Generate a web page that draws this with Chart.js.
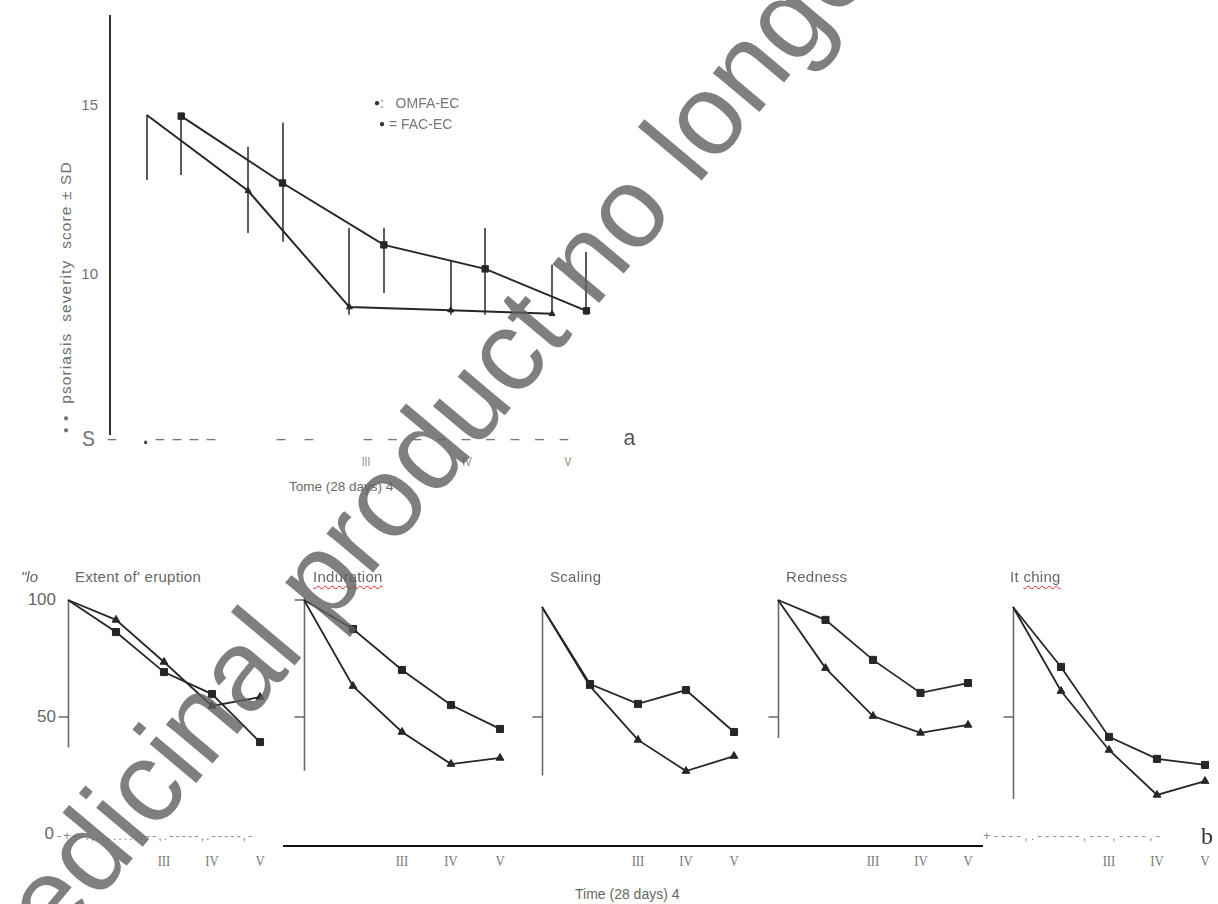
<!DOCTYPE html>
<html>
<head>
<meta charset="utf-8">
<script src="https://cdn.jsdelivr.net/npm/chart.js@4.4.1/dist/chart.umd.min.js"></script>
<style>
  body { margin: 0; background: #fff; width: 1218px; height: 904px; overflow: hidden; position: relative;
         font-family: "Liberation Sans", Arial, sans-serif; }
  .txt { position: absolute; white-space: nowrap; line-height: 1; }
  canvas { position: absolute; }
  .wavy { text-decoration: underline wavy #e02424; text-decoration-thickness: 1px; text-underline-offset: 3px; }
</style>
</head>
<body>
<script>
// ---- panel a: psoriasis severity score ± SD per visit ----
const visits = [1, 2, 3, 4, 5];
const visitLabels = ["I", "II", "III", "IV", "V"];
const scoreTicks = [15, 10];

const omfaMean = [14.7, 12.46, 9.02, 8.93, 8.82];
const omfaLow = [12.78, 11.21, 8.79, 8.79, 8.79];
const omfaHigh = [14.7, 13.76, 11.36, 10.38, 10.27];

const facMean = [14.67, 12.69, 10.86, 10.15, 8.91];
const facLow = [12.93, 10.95, 9.44, 8.79, 8.79];
const facHigh = [14.7, 14.47, 11.36, 11.36, 10.65];

// ---- panel b: % of baseline per symptom ----
const panelTitles = ["Extent of' eruption", "Induration", "Scaling", "Redness", "It ching"];
const pctTicks = [100, 50, 0];

const eruptionOmfa = [100, 91.5, 73.5, 54.7, 58.5];
const eruptionFac = [100, 86.3, 69.2, 59.8, 39.3];
const indurationOmfa = [100, 63.2, 43.6, 29.9, 32.5];
const indurationFac = [100, 87.6, 70.1, 55.1, 44.9];
const scalingOmfa = [97, 63.2, 40.2, 26.9, 33.3];
const scalingFac = [97, 64.1, 55.6, 61.5, 43.6];
const rednessOmfa = [100, 70.9, 50.4, 43.2, 46.6];
const rednessFac = [100, 91.5, 74.4, 60.3, 64.5];
const itchingOmfa = [97, 61.1, 35.9, 16.7, 22.6];
const itchingFac = [97, 71.4, 41.5, 32.1, 29.5];

// vertical extent of each small y axis (in %)
const axisTops = [100, 101, 96, 100, 97];
const axisBottoms = [37, 27, 25, 41, 15];

const omfaSets = [eruptionOmfa, indurationOmfa, scalingOmfa, rednessOmfa, itchingOmfa];
const facSets = [eruptionFac, indurationFac, scalingFac, rednessFac, itchingFac];

// ---------------------------------------------------------------
const INK = "#262626";
const GREY = "#707070";

const addText = (text, css, cls) => {
  const el = document.createElement("div");
  el.className = "txt" + (cls ? " " + cls : "");
  el.innerHTML = text;
  el.style.cssText += css;
  document.body.appendChild(el);
  return el;
};

const makeCanvas = (left, top, w, h) => {
  const c = document.createElement("canvas");
  c.width = w; c.height = h;
  c.style.left = left + "px"; c.style.top = top + "px";
  c.style.width = w + "px"; c.style.height = h + "px";
  document.body.appendChild(c);
  return c;
};

// punkt-merkit: ensimmäinen piste ilman merkkiä
const radii = (first, rest) => visits.map((v, i) => (i === 0 ? first : rest));

// ---------------- panel a ----------------
const topBox = { left: 100, top: 5, w: 530, h: 448, pad: 10 };
const omfaX = visits.map(v => v - 0.16);
const facX = visits.map(v => v + 0.18);

const errorBars = {
  id: "errorBars",
  beforeDatasetsDraw(chart) {
    const { ctx, chartArea, scales: { x, y } } = chart;
    ctx.save();
    // y-akseli
    ctx.strokeStyle = "#333";
    ctx.lineWidth = 2;
    ctx.beginPath();
    ctx.moveTo(chartArea.left, chartArea.top);
    ctx.lineTo(chartArea.left, y.getPixelForValue(5.24));
    ctx.stroke();
    // keskihajonnat
    ctx.strokeStyle = "#5c5c5c";
    ctx.lineWidth = 2;
    [[omfaX, omfaLow, omfaHigh], [facX, facLow, facHigh]].forEach(([xs, lo, hi]) => {
      xs.forEach((v, i) => {
        const px = Math.round(x.getPixelForValue(v));
        ctx.beginPath();
        ctx.moveTo(px, y.getPixelForValue(lo[i]));
        ctx.lineTo(px, y.getPixelForValue(hi[i]));
        ctx.stroke();
      });
    });
    ctx.restore();
  }
};

const topCanvas = makeCanvas(topBox.left, topBox.top, topBox.w, topBox.h);
const topChart = new Chart(topCanvas, {
  type: "line",
  data: {
    datasets: [
      {
        label: "OMFA-EC",
        data: omfaX.map((x, i) => ({ x, y: omfaMean[i] })),
        borderColor: INK, borderWidth: 2, backgroundColor: INK,
        pointStyle: "triangle", pointRadius: radii(0, 3.5), pointBorderWidth: 1,
      },
      {
        label: "FAC-EC",
        data: facX.map((x, i) => ({ x, y: facMean[i] })),
        borderColor: INK, borderWidth: 2, backgroundColor: INK,
        pointStyle: "rect", pointRadius: 4.5, pointBorderWidth: 1,
      },
    ],
  },
  options: {
    responsive: false, animation: false, clip: false,
    layout: { padding: topBox.pad },
    plugins: { legend: { display: false }, tooltip: { enabled: false } },
    scales: {
      x: { type: "linear", min: 0.477, max: 5.511, display: false },
      y: { type: "linear", min: 5, max: 17.66, display: false },
    },
  },
  plugins: [errorBars],
});

// akselien tekstit
const ty = topChart.scales.y, tx = topChart.scales.x;
scoreTicks.forEach(v => {
  addText(String(v), `right:${1218 - 98}px; top:${topBox.top + ty.getPixelForValue(v) - 8}px; font-size:15px; color:${GREY};`);
});
visitLabels.forEach((lab, i) => {
  if (i < 2) return;
  const el = addText(lab, `top:456px; font-size:12px; color:#888; transform:translateX(-50%) scaleX(0.85);`);
  el.style.left = (topBox.left + tx.getPixelForValue(visits[i])) + "px";
});
addText("Tome (28 days) 4", "left:289px; top:480px; font-size:13.5px; color:#6a6a6a;");
addText("• •&nbsp;&nbsp;psoriasis&nbsp;&nbsp;severity&nbsp;&nbsp;score ± SD",
  "left:58px; top:433px; font-size:15.5px; color:#6e6e6e; letter-spacing:1.1px; transform-origin:0 0; transform:rotate(-90deg);");

// katkoviivainen "akseli" ja kirjaimet
const mono = "font-family:'Liberation Mono',monospace; color:#7a7a7a;";
addText("S", `left:82px; top:430px; font-size:22px; ${mono}`);
addText("–", `left:106px; top:430px; font-size:20px; ${mono}`);
addText(".", `left:139px; top:428px; font-size:22px; ${mono} color:#333;`);
addText("––––", `left:154px; top:430px; font-size:20px; letter-spacing:5px; ${mono}`);
addText("– –", `left:275px; top:430px; font-size:20px; letter-spacing:2px; ${mono}`);
addText("–––––––––", `left:362px; top:430px; font-size:20px; letter-spacing:12.5px; ${mono}`);
addText("a", `left:623px; top:429px; font-size:22px; ${mono} color:#555;`);

// selite
addText("<span style='color:#333;font-size:10px;position:relative;top:-2px'>●</span>:&nbsp;&nbsp;&nbsp;OMFA-EC",
  "left:374px; top:96px; font-size:14px; color:#777;");
addText("<span style='color:#333;font-size:10px;position:relative;top:-2px'>●</span> = FAC-EC",
  "left:379px; top:117px; font-size:14px; color:#777;");

// ---------------- panel b ----------------
const panelLeft = [68, 304, 542, 778, 1013];
const panelRight = [260, 500, 734, 968, 1205];
const panelTitleX = [75, 313, 550, 786, 1010];
const bPad = 12, bTop = 600, bBottom = 834;

const smallAxis = {
  id: "smallAxis",
  beforeDatasetsDraw(chart, args, opts) {
    const { ctx, chartArea, scales: { y } } = chart;
    const x0 = Math.round(chartArea.left) + 0.5;
    ctx.save();
    ctx.strokeStyle = "#6a6a6a";
    ctx.lineWidth = 1.6;
    ctx.beginPath();
    ctx.moveTo(x0, y.getPixelForValue(opts.top));
    ctx.lineTo(x0, y.getPixelForValue(opts.bottom));
    opts.ticks.forEach(v => {
      const py = y.getPixelForValue(v);
      ctx.moveTo(x0 - 10, py);
      ctx.lineTo(x0, py);
    });
    ctx.stroke();
    ctx.restore();
  }
};

panelTitles.forEach((title, p) => {
  const left = panelLeft[p] - bPad;
  const w = panelRight[p] - panelLeft[p] + 2 * bPad;
  const h = bBottom - bTop + 2 * bPad;
  const cv = makeCanvas(left, bTop - bPad, w, h);
  const ch = new Chart(cv, {
    type: "line",
    data: {
      datasets: [
        {
          label: "OMFA-EC",
          data: visits.map((x, i) => ({ x, y: omfaSets[p][i] })),
          borderColor: INK, borderWidth: 1.8, backgroundColor: INK,
          pointStyle: "triangle", pointRadius: radii(0, 4.5), pointBorderWidth: 1,
        },
        {
          label: "FAC-EC",
          data: visits.map((x, i) => ({ x, y: facSets[p][i] })),
          borderColor: INK, borderWidth: 1.8, backgroundColor: INK,
          pointStyle: "rect", pointRadius: radii(0, 5), pointBorderWidth: 1,
        },
      ],
    },
    options: {
      responsive: false, animation: false, clip: false,
      layout: { padding: bPad },
      plugins: {
        legend: { display: false }, tooltip: { enabled: false },
        smallAxis: { top: axisTops[p], bottom: axisBottoms[p], ticks: p === 1 ? [100, 50] : [50] },
      },
      scales: {
        x: { type: "linear", min: 1, max: 5, display: false },
        y: { type: "linear", min: 0, max: 100, display: false },
      },
    },
    plugins: [smallAxis],
  });

  // aika-akselin roomalaiset numerot
  visitLabels.forEach((lab, i) => {
    if (i < 2) return;
    const el = addText(lab, "top:854px; font-family:'Liberation Serif',serif; font-size:15px; color:#777; transform:translateX(-50%) scaleX(0.85);");
    el.style.left = (left + ch.scales.x.getPixelForValue(visits[i])) + "px";
  });

  // otsikot
  let html = title;
  if (p === 1) html = "<span class='wavy'>Induration</span>";
  if (p === 4) html = "It <span class='wavy'>ching</span>";
  addText(html, `left:${panelTitleX[p]}px; top:569px; font-size:15px; color:#666; letter-spacing:0.3px;`);

  // prosenttiasteikko vain ensimmäiseen
  if (p === 0) {
    pctTicks.forEach(v => {
      const py = bTop - bPad + ch.scales.y.getPixelForValue(v);
      const xr = v === 0 ? 1218 - 54 : 1218 - 56;
      addText(String(v), `right:${xr}px; top:${py - 9}px; font-size:17px; color:#666;`);
    });
  }
});

addText("\"lo", "left:21px; top:569px; font-size:15px; color:#666; font-style:italic;");

// pohjaviiva ja sotkuiset katkoviivat
addText("-+--.,.........--,.-----,.-----,-", "left:57px; top:829px; font-size:13px; color:#8a8a8a; letter-spacing:1.9px;");
const base = document.createElement("div");
base.style.cssText = "position:absolute; left:283px; top:845px; width:700px; height:2px; background:#111;";
document.body.appendChild(base);
addText("+----,.------,---,----,-", "left:983px; top:829px; font-size:13px; color:#8a8a8a; letter-spacing:3.2px;");
addText("b", "left:1201px; top:824px; font-family:'Liberation Serif',serif; font-size:24px; color:#333;");
addText("Time (28 days) 4", "left:575px; top:887px; font-size:14px; color:#666;");

// vesileima
addText("Medicinal product no longer authorised",
  "left:-6px; top:1024px; font-size:115px; color:rgba(95,95,95,0.8); pointer-events:none; transform-origin:0 0; transform:rotate(-50deg) translateY(-97px);");
</script>
</body>
</html>
